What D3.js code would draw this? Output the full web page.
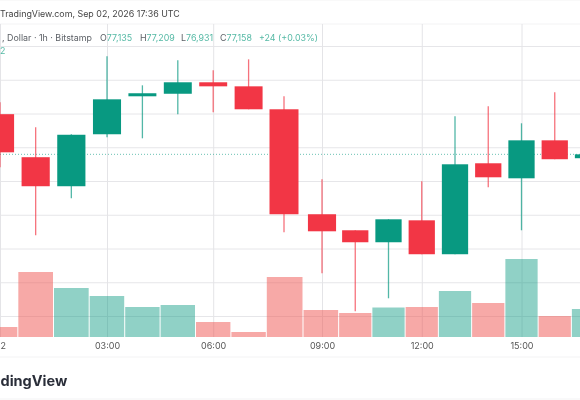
<!DOCTYPE html>
<html><head><meta charset="utf-8">
<script src="https://cdn.jsdelivr.net/npm/d3@7/dist/d3.min.js"></script>
<style>html,body{margin:0;padding:0;background:#fff;overflow:hidden}svg{display:block;font-family:Inter,"Liberation Sans",sans-serif;filter:blur(.35px)}</style>
</head><body><svg id="c" width="580" height="400"></svg>
<script>
const hours=[0,1,2,3,4,5,6,7,8,9,10,11,12,13,14,15,16,17];
const open =[77396,77141,76969,77277,77502,77517,77585,77561,77425,76803,76708,76637,76767,76566,77105,77016,77241,77135];
const close=[77170,76969,77274,77484,77520,77585,77561,77425,76803,76702,76637,76773,76566,77099,77022,77241,77129,77158];
const high =[77467,77319,77277,77739,77567,77716,77656,77721,77502,77010,76708,76773,76999,77384,77443,77342,77526,77209];
const low  =[77081,76679,76898,77259,77253,77396,77407,77425,76696,76453,76228,76305,76566,76566,76963,76708,77129,76931];
const volume=[10,65,49,41,30,32,15,5,60,27,24,29.5,30,46,34,78,21,28];
const priceTicks=[77800,77600,77400,77200,77000,76800,76600,76400,76200];
const timeTicks=[0,3,6,9,12,15];
const timeLabels=["2","03:00","06:00","09:00","12:00","15:00"];
const titleText="TradingView.com, Sep 02, 2026 17:36 UTC";
const symbolText=", Dollar · 1h · Bitstamp";
const ohlcKeys=["O","H","L","C"];
const ohlcVals=["77,135","77,209","76,931","77,158"];
const changeText="+24 (+0.03%)";
const volumeStub="2";
const brandText="dingView";
const UP="#089981",DOWN="#f23645",VOL_UP="#089981",VOL_DOWN="#ef5350";

const svg=d3.select("#c");
const x=d3.scaleLinear().domain([0,3,8,9,17]).range([0,107,284,322,588]);
const y=d3.scaleLinear().domain([76200,77800]).range([316,46]);
const v=d3.scaleLinear().domain([0,100]).range([337,237]);
const edge=(h)=>(x(h-1)+x(h))/2;
const isUp=i=>close[i]>=open[i];

[[0],[24],[357],[399]].forEach(([py])=>svg.append("line").attr("x1",0).attr("x2",580).attr("y1",py).attr("y2",py).attr("stroke","#f3f3f4"));

const gy=svg.append("g").call(d3.axisRight(y).tickValues(priceTicks).tickSize(580).tickFormat(""));
gy.select(".domain").remove();
gy.selectAll("line").attr("stroke","#e6e6e9").attr("stroke-width",1);
const gx=svg.append("g").attr("transform","translate(0,337)").call(d3.axisTop(x).tickValues(timeTicks).tickSize(313).tickFormat(""));
gx.select(".domain").remove();
gx.selectAll("line").attr("stroke","#e4e4e7").attr("stroke-width",1);
const ax=svg.append("g").attr("transform","translate(0,337)").call(d3.axisBottom(x).tickValues(timeTicks).tickSize(0).tickPadding(6).tickFormat((d,i)=>timeLabels[i]));
ax.select(".domain").remove();
ax.selectAll("text").attr("font-size",9).attr("fill","#555").attr("font-family","Inter");
ax.selectAll("text").filter(d=>d===0).attr("text-anchor","start");

svg.append("g").selectAll("rect").data(hours).join("rect")
 .attr("x",h=>edge(h)+.5).attr("width",h=>edge(h+1)-edge(h)-1)
 .attr("y",(h,i)=>v(volume[i])).attr("height",(h,i)=>v(0)-v(volume[i]))
 .attr("fill",(h,i)=>isUp(i)?VOL_UP:VOL_DOWN).attr("fill-opacity",(h,i)=>isUp(i)?.45:.5);

svg.append("line").attr("x1",0).attr("x2",580).attr("y1",y(close[17])).attr("y2",y(close[17]))
 .attr("stroke",UP).attr("stroke-opacity",.6).attr("stroke-dasharray","1 2");

svg.append("g").selectAll("line").data(hours).join("line")
 .attr("x1",h=>x(h)).attr("x2",h=>x(h))
 .attr("y1",(h,i)=>y(high[i])).attr("y2",(h,i)=>y(low[i]))
 .attr("stroke",(h,i)=>isUp(i)?UP:DOWN).attr("stroke-opacity",.7).attr("stroke-width",1.3);
svg.append("g").selectAll("rect").data(hours).join("rect")
 .attr("x",h=>x(h)-.395*(edge(h+1)-edge(h))).attr("width",h=>.79*(edge(h+1)-edge(h)))
 .attr("y",(h,i)=>y(Math.max(open[i],close[i])))
 .attr("height",(h,i)=>Math.abs(y(open[i])-y(close[i])))
 .attr("fill",(h,i)=>isUp(i)?UP:DOWN);

svg.append("text").attr("x",0).attr("y",16.5).attr("font-size",8.9).attr("fill","#444").text(titleText);
const hdrC="#5c6066",valC="#55b9a5";
svg.append("text").attr("x",2).attr("y",40.5).attr("font-size",8.9).attr("fill",hdrC).text(symbolText);
const kx=[100,140,181,220];
ohlcKeys.forEach((k,i)=>{
 const t=svg.append("text").attr("x",kx[i]).attr("y",40.5).attr("font-size",8.9).attr("fill",hdrC);
 t.append("tspan").text(k);
 t.append("tspan").attr("fill",valC).text(ohlcVals[i]);
});
svg.append("text").attr("x",259).attr("y",40.5).attr("font-size",8.9).attr("fill",valC).text(changeText);
svg.append("text").attr("x",0).attr("y",54).attr("font-size",8.9).attr("fill",valC).text(volumeStub);
svg.append("text").attr("x",0.5).attr("y",385.5).attr("font-size",14.5).attr("font-weight",700).attr("fill","#2a2e39").text(brandText);
</script></body></html>
